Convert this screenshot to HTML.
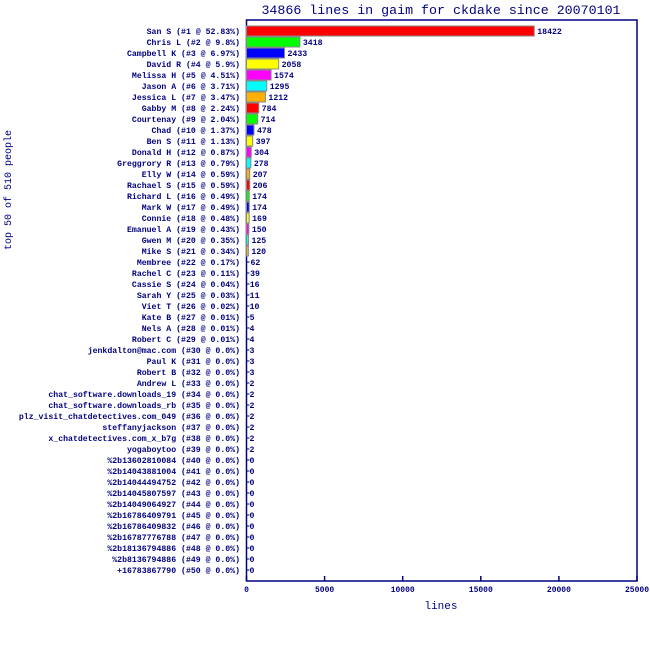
<!DOCTYPE html>
<html><head><meta charset="utf-8">
<style>
body{margin:0;background:#fff;}
svg text{font-family:"Liberation Mono",monospace;fill:#000080;}
</style></head>
<body>
<svg id="chart" width="650" height="660" xmlns="http://www.w3.org/2000/svg">
<text x="441" y="14" font-size="13.3" text-anchor="middle">34866 lines in gaim for ckdake since 20070101</text>
<text transform="translate(11,190) rotate(-90)" font-size="10" text-anchor="middle">top 50 of 510 people</text>
<text x="441" y="609" font-size="11" text-anchor="middle">lines</text>
<g id="marks"></g>
</svg>
<script>
const names=["San S","Chris L","Campbell K","David R","Melissa H","Jason A","Jessica L","Gabby M","Courtenay","Chad","Ben S","Donald H","Greggrory R","Elly W","Rachael S","Richard L","Mark W","Connie","Emanuel A","Gwen M","Mike S","Membree","Rachel C","Cassie S","Sarah Y","Viet T","Kate B","Nels A","Robert C","jenkdalton@mac.com","Paul K","Robert B","Andrew L","chat_software.downloads_19","chat_software.downloads_rb","plz_visit_chatdetectives.com_049","steffanyjackson","x_chatdetectives.com_x_b7g","yogaboytoo","%2b13602810084","%2b14043881004","%2b14044494752","%2b14045807597","%2b14049064927","%2b16786409791","%2b16786409832","%2b16787776788","%2b18136794886","%2b8136794886","+16783867790"];
const percents=["52.83","9.8","6.97","5.9","4.51","3.71","3.47","2.24","2.04","1.37","1.13","0.87","0.79","0.59","0.59","0.49","0.49","0.48","0.43","0.35","0.34","0.17","0.11","0.04","0.03","0.02","0.01","0.01","0.01","0.0","0.0","0.0","0.0","0.0","0.0","0.0","0.0","0.0","0.0","0.0","0.0","0.0","0.0","0.0","0.0","0.0","0.0","0.0","0.0","0.0"];
const values=[18422,3418,2433,2058,1574,1295,1212,784,714,478,397,304,278,207,206,174,174,169,150,125,120,62,39,16,11,10,5,4,4,3,3,3,2,2,2,2,2,2,2,0,0,0,0,0,0,0,0,0,0,0];
const xTicks=[0,5000,10000,15000,20000,25000];
const colors=["#ff0000","#00ff00","#0000ff","#ffff00","#ff00ff","#00ffff","#ffb000"];
const X0=246.5,X1=637,XMAX=25000,TOP=20,BOT=581;
function xs(v){return X0+(X1-X0)*v/XMAX;}
function ys(i){return 31+11*i;}
const NS="http://www.w3.org/2000/svg";
const g=document.getElementById('marks');
function mk(t,a){const e=document.createElementNS(NS,t);for(const k in a)e.setAttribute(k,a[k]);g.appendChild(e);return e;}
let ax=mk('path',{d:`M${X0},${TOP}H${X1}V${BOT}H${X0}Z`,fill:'none',stroke:'#000080','stroke-width':1.5});


xTicks.forEach(t=>{
  const l=mk('line',{x1:xs(t),x2:xs(t),y1:BOT,y2:BOT-5,stroke:'#000080','stroke-width':1.5});
  
  
  const tx=mk('text',{x:xs(t),y:BOT+11,'font-size':8,'font-weight':'bold','text-anchor':'middle'});
  tx.textContent=t;
  
  
});
values.forEach((v,i)=>{
  const y=ys(i);
  const lab=mk('text',{x:240,y:y+3,'font-size':8.2,'font-weight':'bold','text-anchor':'end'});
  lab.textContent=`${names[i]} (#${i+1} @ ${percents[i]}%)`;
  
  
  const w=xs(v)-X0;
  if(w>=1){
    const r=mk('rect',{x:X0,y:y-5,width:w,height:10,fill:colors[i%7],stroke:'#888888','stroke-width':1});
    
    
  } else {
    const l=mk('line',{x1:X0,x2:X0+3,y1:y,y2:y,stroke:'#000080','stroke-width':1});
    
    
  }
  const vt=mk('text',{x:X0+Math.max(w,0)+3,y:y+3,'font-size':8.2,'font-weight':'bold'});
  vt.textContent=v;
  
  
});
</script>
</body></html>
